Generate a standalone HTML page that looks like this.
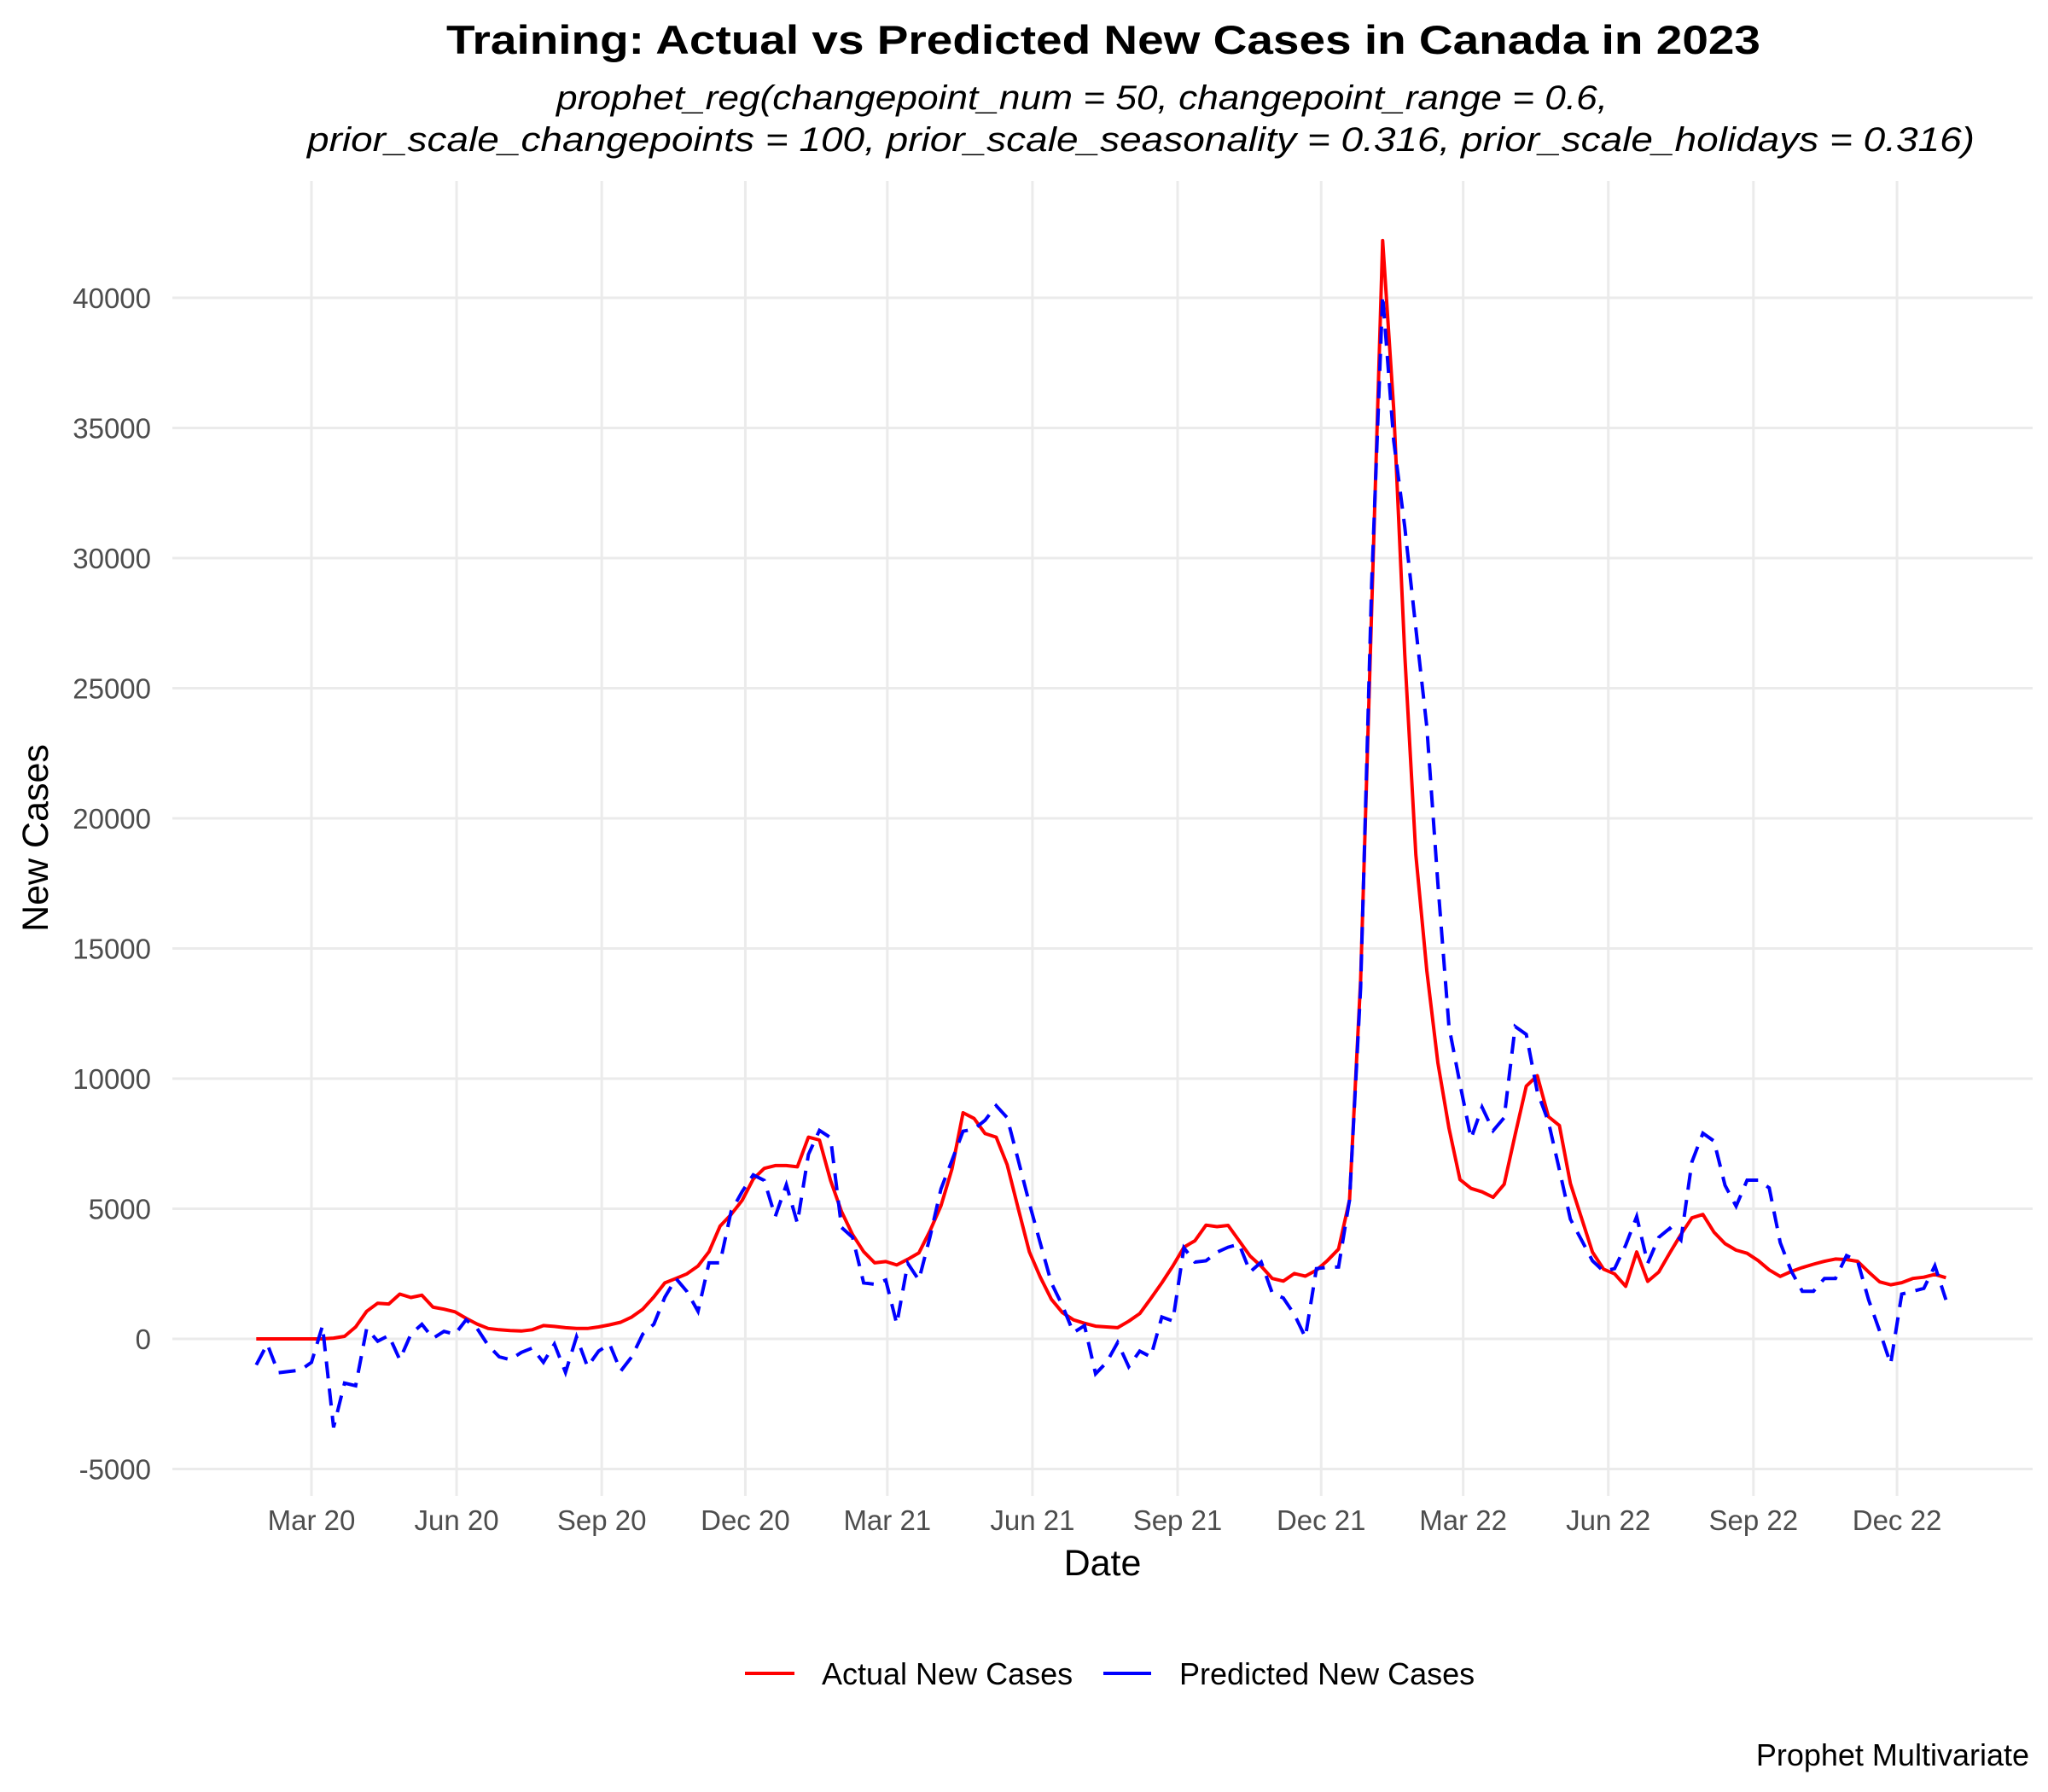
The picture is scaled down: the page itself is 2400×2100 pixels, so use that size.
<!DOCTYPE html>
<html><head><meta charset="utf-8"><style>
html,body{margin:0;padding:0;background:#fff;}
svg{display:block;font-family:"Liberation Sans",Arial,sans-serif;}
</style></head><body>
<svg id="chart" width="2400" height="2100" viewBox="0 0 2400 2100" xmlns="http://www.w3.org/2000/svg">
<rect width="2400" height="2100" fill="#fff"/>
<text x="1293" y="63" text-anchor="middle" font-size="47" font-weight="bold" textLength="1540" lengthAdjust="spacingAndGlyphs">Training: Actual vs Predicted New Cases in Canada in 2023</text>
<text x="652" y="128" font-size="40" font-style="italic" textLength="1232" lengthAdjust="spacingAndGlyphs">prophet_reg(changepoint_num = 50, changepoint_range = 0.6,</text>
<text x="360" y="177" font-size="40" font-style="italic" textLength="1954" lengthAdjust="spacingAndGlyphs">prior_scale_changepoints = 100, prior_scale_seasonality = 0.316, prior_scale_holidays = 0.316)</text>
<g id="grid"></g>
<g id="yticks"></g>
<g id="xticks"></g>
<g id="series"></g>
<text x="1292" y="1846" text-anchor="middle" font-size="43">Date</text>
<text transform="translate(56,982) rotate(-90)" text-anchor="middle" font-size="43">New Cases</text>
<g>
<g>
<line x1="873" y1="1961" x2="931" y2="1961" stroke="#ff0000" stroke-width="4"/>
<text x="963" y="1974" font-size="36">Actual New Cases</text>
</g>
<g>
<line x1="1293" y1="1961" x2="1349" y2="1961" stroke="#0000ff" stroke-width="4"/>
<text x="1382" y="1974" font-size="36">Predicted New Cases</text>
</g>
</g>
<text x="2378" y="2069" text-anchor="end" font-size="36">Prophet Multivariate</text>
</svg>
<script>
const startDate = "2020-01-26";
const actualValues = [0,0,0,0,0,0,0,30,100,460,1060,1370,1340,1720,1590,1680,1220,1140,1040,790,570,400,350,320,300,350,510,480,430,400,400,460,540,640,840,1140,1610,2150,2320,2500,2800,3350,4330,4780,5320,6140,6550,6660,6660,6610,7750,7640,6090,4890,4010,3350,2920,2970,2840,3060,3300,4140,5110,6530,8690,8470,7890,7750,6690,5000,3350,2370,1520,1010,730,600,490,460,430,680,970,1550,2150,2800,3520,3770,4370,4310,4360,3770,3180,2790,2320,2220,2510,2410,2640,3010,3450,5340,13800,28000,42200,35700,26300,18600,14130,10610,8100,6120,5780,5650,5440,5940,7850,9710,10110,8540,8200,5970,4650,3330,2680,2500,2020,3340,2210,2570,3300,4010,4650,4780,4100,3660,3410,3290,3010,2650,2400,2590,2740,2870,2980,3070,3050,2980,2570,2190,2080,2160,2320,2370,2480,2350];
const predictedValues = [-1000,-200,-1300,-1250,-1200,-900,500,-3400,-1700,-1800,400,-90,130,-800,180,560,20,290,180,730,400,-250,-690,-800,-520,-350,-900,-200,-1290,80,-1070,-470,-200,-1240,-690,180,560,1600,2320,1820,1060,2920,2920,4900,5660,6300,6090,4700,5920,4450,7090,8010,7730,4280,3900,2150,2100,2260,570,2900,2260,3900,5760,6860,7980,8060,8400,8960,8500,6860,5220,3680,2150,1280,240,510,-1340,-900,-140,-1070,-470,-690,840,690,3500,2950,3000,3330,3520,3640,2570,2950,1760,1570,940,60,2700,2750,2760,5340,13500,29000,40100,34500,31200,27300,23500,17500,12000,9800,7700,8900,8000,8500,12000,11700,9500,8350,6500,4600,3800,3000,2600,2700,3600,4700,2900,3900,4250,3800,6800,7900,7600,5900,5100,6100,6100,5800,3700,2600,1830,1830,2320,2320,3200,3000,1500,300,-960,1720,1830,1940,2810,1500];
const yTicks = [-5000,0,5000,10000,15000,20000,25000,30000,35000,40000];
const xTickDates = ["2020-03-01","2020-06-01","2020-09-01","2020-12-01","2021-03-01","2021-06-01","2021-09-01","2021-12-01","2022-03-01","2022-06-01","2022-09-01","2022-12-01"];
const xTickLabels = ["Mar 20","Jun 20","Sep 20","Dec 20","Mar 21","Jun 21","Sep 21","Dec 21","Mar 22","Jun 22","Sep 22","Dec 22"];

const NS = "http://www.w3.org/2000/svg";
const PL = 202, PR = 2382, PT = 212, PB = 1746;
const DAY = 86400000;
const origin = Date.UTC(2020,2,1);
function parseD(s){const p=s.split("-");return Date.UTC(+p[0],+p[1]-1,+p[2]);}
function xScale(t){return 365 + (t-origin)/DAY*1.8488;}
function yScale(v){return 1569 - v*0.0305;}
function mk(tag, attrs){const e=document.createElementNS(NS,tag);for(const k in attrs)e.setAttribute(k,attrs[k]);return e;}
const grid=document.getElementById("grid"), yt=document.getElementById("yticks"), xt=document.getElementById("xticks"), ser=document.getElementById("series");

yTicks.forEach(v=>{
  const y=yScale(v);
  const l=mk("line",{x1:PL,x2:PR,y1:y,y2:y,stroke:"#ebebeb","stroke-width":3});
  
  
  grid.appendChild(l);
  const t=mk("text",{x:177,y:y+12,"text-anchor":"end","font-size":33,fill:"#4d4d4d"});
  
  
  t.textContent=String(v);
  yt.appendChild(t);
});
xTickDates.forEach((d,i)=>{
  const x=xScale(parseD(d));
  const l=mk("line",{x1:x,x2:x,y1:PT,y2:PB,stroke:"#ebebeb","stroke-width":3});
  
  
  grid.appendChild(l);
  const tk=mk("line",{x1:x,x2:x,y1:PB,y2:PB+7,stroke:"#ebebeb","stroke-width":3});
  
  
  grid.appendChild(tk);
  const t=mk("text",{x:x,y:1793,"text-anchor":"middle","font-size":33,fill:"#4d4d4d"});
  
  
  t.textContent=xTickLabels[i];
  xt.appendChild(t);
});
const t0=parseD(startDate);
function pathFor(vals){return vals.map((v,i)=>(i?"L":"M")+xScale(t0+i*7*DAY).toFixed(1)+","+yScale(v).toFixed(1)).join(" ");}
const pa=mk("path",{d:pathFor(actualValues),fill:"none",stroke:"#ff0000","stroke-width":4,"stroke-linejoin":"round"});


ser.appendChild(pa);
const pp=mk("path",{d:pathFor(predictedValues),fill:"none",stroke:"#0000ff","stroke-width":4,"stroke-dasharray":"20 12"});


ser.appendChild(pp);
</script>
</body></html>
